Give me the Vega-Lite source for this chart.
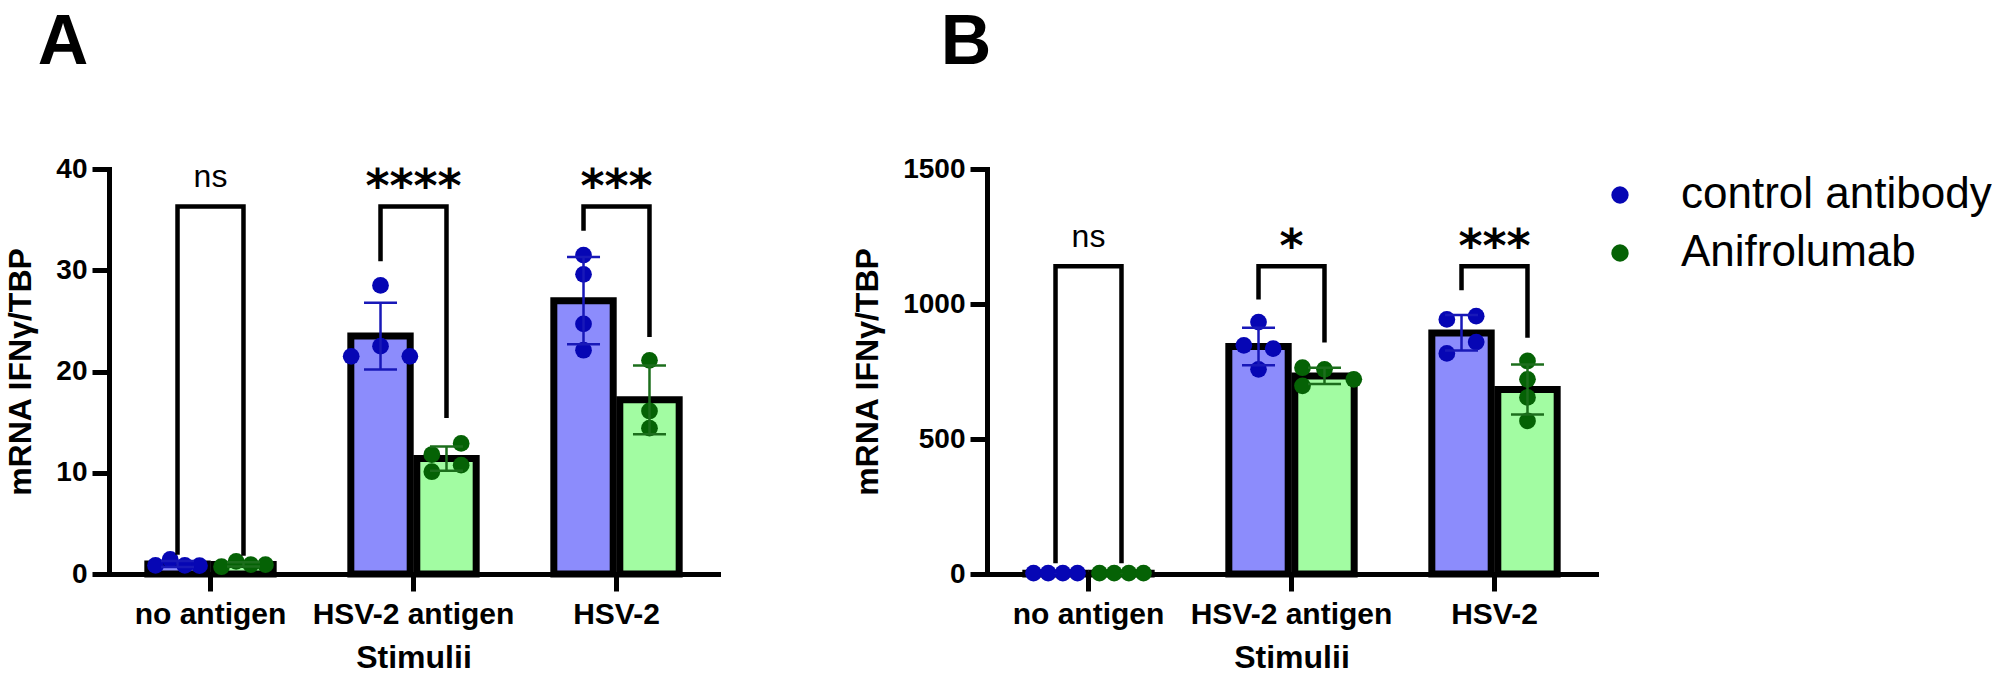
{
  "$schema": "https://vega.github.io/schema/vega-lite/v6.json",
  "background": "white",
  "padding": {"left": 4, "top": 8, "right": 0, "bottom": 0},
  "config": {
    "font": "Liberation Sans",
    "view": {"stroke": null},
    "axis": {
      "grid": false,
      "domainColor": "black",
      "domainWidth": 5,
      "domainCap": "square",
      "tickColor": "black",
      "tickWidth": 5,
      "tickSize": 17,
      "tickCap": "butt",
      "labelColor": "black",
      "labelFont": "Liberation Sans",
      "labelFontWeight": "bold",
      "labelLimit": 500,
      "titleColor": "black",
      "titleFont": "Liberation Sans",
      "titleFontWeight": "bold"
    },
    "axisY": {"labelFontSize": 28, "labelPadding": 5, "titleFontSize": 32, "titlePadding": 18, "format": "d"},
    "axisX": {"labelFontSize": 30, "labelPadding": 8, "labelAngle": 0, "titleFontSize": 32, "titlePadding": 13},
    "legend": {
      "orient": "right",
      "offset": -2,
      "padding": 4,
      "title": null,
      "labelFont": "Liberation Sans",
      "labelFontSize": 44,
      "labelColor": "black",
      "labelLimit": 400,
      "labelOffset": 39,
      "symbolType": "circle",
      "symbolSize": 300,
      "symbolStrokeWidth": 0,
      "rowPadding": 14
    }
  },
  "datasets": {
    "bars": [
      {"panel": "A", "stim": "no antigen", "group": "control antibody", "mean": 0.99, "lo": 0.69, "hi": 1.29},
      {"panel": "A", "stim": "no antigen", "group": "Anifrolumab", "mean": 0.95, "lo": 0.73, "hi": 1.17},
      {"panel": "A", "stim": "HSV-2 antigen", "group": "control antibody", "mean": 23.5, "lo": 20.2, "hi": 26.8},
      {"panel": "A", "stim": "HSV-2 antigen", "group": "Anifrolumab", "mean": 11.4, "lo": 10.2, "hi": 12.6},
      {"panel": "A", "stim": "HSV-2", "group": "control antibody", "mean": 27.0, "lo": 22.7, "hi": 31.3},
      {"panel": "A", "stim": "HSV-2", "group": "Anifrolumab", "mean": 17.2, "lo": 13.8, "hi": 20.6},
      {"panel": "B", "stim": "no antigen", "group": "control antibody", "mean": 3, "lo": 2, "hi": 4},
      {"panel": "B", "stim": "no antigen", "group": "Anifrolumab", "mean": 3, "lo": 2, "hi": 4},
      {"panel": "B", "stim": "HSV-2 antigen", "group": "control antibody", "mean": 843, "lo": 773, "hi": 912},
      {"panel": "B", "stim": "HSV-2 antigen", "group": "Anifrolumab", "mean": 733, "lo": 704, "hi": 764},
      {"panel": "B", "stim": "HSV-2", "group": "control antibody", "mean": 893, "lo": 828, "hi": 959},
      {"panel": "B", "stim": "HSV-2", "group": "Anifrolumab", "mean": 683, "lo": 591, "hi": 776}
    ],
    "pts": [
      {"panel": "A", "stim": "no antigen", "group": "control antibody", "slot": "c2", "value": 0.85},
      {"panel": "A", "stim": "no antigen", "group": "control antibody", "slot": "c4", "value": 1.45},
      {"panel": "A", "stim": "no antigen", "group": "control antibody", "slot": "c6", "value": 0.85},
      {"panel": "A", "stim": "no antigen", "group": "control antibody", "slot": "c8", "value": 0.82},
      {"panel": "A", "stim": "no antigen", "group": "Anifrolumab", "slot": "a2", "value": 0.72},
      {"panel": "A", "stim": "no antigen", "group": "Anifrolumab", "slot": "a4", "value": 1.25},
      {"panel": "A", "stim": "no antigen", "group": "Anifrolumab", "slot": "a6", "value": 0.92},
      {"panel": "A", "stim": "no antigen", "group": "Anifrolumab", "slot": "a8", "value": 0.92},
      {"panel": "A", "stim": "HSV-2 antigen", "group": "control antibody", "slot": "c5", "value": 28.5},
      {"panel": "A", "stim": "HSV-2 antigen", "group": "control antibody", "slot": "c5", "value": 22.5},
      {"panel": "A", "stim": "HSV-2 antigen", "group": "control antibody", "slot": "c1", "value": 21.5},
      {"panel": "A", "stim": "HSV-2 antigen", "group": "control antibody", "slot": "c9", "value": 21.5},
      {"panel": "A", "stim": "HSV-2 antigen", "group": "Anifrolumab", "slot": "a7", "value": 12.9},
      {"panel": "A", "stim": "HSV-2 antigen", "group": "Anifrolumab", "slot": "a3", "value": 11.8},
      {"panel": "A", "stim": "HSV-2 antigen", "group": "Anifrolumab", "slot": "a7", "value": 10.75},
      {"panel": "A", "stim": "HSV-2 antigen", "group": "Anifrolumab", "slot": "a3", "value": 10.1},
      {"panel": "A", "stim": "HSV-2", "group": "control antibody", "slot": "c5", "value": 31.5},
      {"panel": "A", "stim": "HSV-2", "group": "control antibody", "slot": "c5", "value": 29.6},
      {"panel": "A", "stim": "HSV-2", "group": "control antibody", "slot": "c5", "value": 24.7},
      {"panel": "A", "stim": "HSV-2", "group": "control antibody", "slot": "c5", "value": 22.1},
      {"panel": "A", "stim": "HSV-2", "group": "Anifrolumab", "slot": "a5", "value": 21.1},
      {"panel": "A", "stim": "HSV-2", "group": "Anifrolumab", "slot": "a5", "value": 16.1},
      {"panel": "A", "stim": "HSV-2", "group": "Anifrolumab", "slot": "a5", "value": 14.4},
      {"panel": "B", "stim": "no antigen", "group": "control antibody", "slot": "c2", "value": 3},
      {"panel": "B", "stim": "no antigen", "group": "control antibody", "slot": "c4", "value": 3},
      {"panel": "B", "stim": "no antigen", "group": "control antibody", "slot": "c6", "value": 3},
      {"panel": "B", "stim": "no antigen", "group": "control antibody", "slot": "c8", "value": 3},
      {"panel": "B", "stim": "no antigen", "group": "Anifrolumab", "slot": "a2", "value": 3},
      {"panel": "B", "stim": "no antigen", "group": "Anifrolumab", "slot": "a4", "value": 3},
      {"panel": "B", "stim": "no antigen", "group": "Anifrolumab", "slot": "a6", "value": 3},
      {"panel": "B", "stim": "no antigen", "group": "Anifrolumab", "slot": "a8", "value": 3},
      {"panel": "B", "stim": "HSV-2 antigen", "group": "control antibody", "slot": "c5", "value": 933},
      {"panel": "B", "stim": "HSV-2 antigen", "group": "control antibody", "slot": "c3", "value": 847},
      {"panel": "B", "stim": "HSV-2 antigen", "group": "control antibody", "slot": "c7", "value": 835},
      {"panel": "B", "stim": "HSV-2 antigen", "group": "control antibody", "slot": "c5", "value": 758},
      {"panel": "B", "stim": "HSV-2 antigen", "group": "Anifrolumab", "slot": "a2", "value": 764},
      {"panel": "B", "stim": "HSV-2 antigen", "group": "Anifrolumab", "slot": "a5", "value": 758},
      {"panel": "B", "stim": "HSV-2 antigen", "group": "Anifrolumab", "slot": "a9", "value": 721},
      {"panel": "B", "stim": "HSV-2 antigen", "group": "Anifrolumab", "slot": "a2", "value": 697},
      {"panel": "B", "stim": "HSV-2", "group": "control antibody", "slot": "c3", "value": 943},
      {"panel": "B", "stim": "HSV-2", "group": "control antibody", "slot": "c7", "value": 955},
      {"panel": "B", "stim": "HSV-2", "group": "control antibody", "slot": "c7", "value": 859},
      {"panel": "B", "stim": "HSV-2", "group": "control antibody", "slot": "c3", "value": 817},
      {"panel": "B", "stim": "HSV-2", "group": "Anifrolumab", "slot": "a5", "value": 789},
      {"panel": "B", "stim": "HSV-2", "group": "Anifrolumab", "slot": "a5", "value": 721},
      {"panel": "B", "stim": "HSV-2", "group": "Anifrolumab", "slot": "a5", "value": 654},
      {"panel": "B", "stim": "HSV-2", "group": "Anifrolumab", "slot": "a5", "value": 567}
    ],
    "brackets": [
      {"panel": "A", "id": "A1", "stim": "no antigen", "group": "control antibody", "ord": 0, "y": 1.9},
      {"panel": "A", "id": "A1", "stim": "no antigen", "group": "control antibody", "ord": 1, "y": 36.3},
      {"panel": "A", "id": "A1", "stim": "no antigen", "group": "Anifrolumab", "ord": 2, "y": 36.3},
      {"panel": "A", "id": "A1", "stim": "no antigen", "group": "Anifrolumab", "ord": 3, "y": 1.8},
      {"panel": "A", "id": "A2", "stim": "HSV-2 antigen", "group": "control antibody", "ord": 0, "y": 30.9},
      {"panel": "A", "id": "A2", "stim": "HSV-2 antigen", "group": "control antibody", "ord": 1, "y": 36.3},
      {"panel": "A", "id": "A2", "stim": "HSV-2 antigen", "group": "Anifrolumab", "ord": 2, "y": 36.3},
      {"panel": "A", "id": "A2", "stim": "HSV-2 antigen", "group": "Anifrolumab", "ord": 3, "y": 15.4},
      {"panel": "A", "id": "A3", "stim": "HSV-2", "group": "control antibody", "ord": 0, "y": 33.9},
      {"panel": "A", "id": "A3", "stim": "HSV-2", "group": "control antibody", "ord": 1, "y": 36.3},
      {"panel": "A", "id": "A3", "stim": "HSV-2", "group": "Anifrolumab", "ord": 2, "y": 36.3},
      {"panel": "A", "id": "A3", "stim": "HSV-2", "group": "Anifrolumab", "ord": 3, "y": 23.4},
      {"panel": "B", "id": "B1", "stim": "no antigen", "group": "control antibody", "ord": 0, "y": 40},
      {"panel": "B", "id": "B1", "stim": "no antigen", "group": "control antibody", "ord": 1, "y": 1140},
      {"panel": "B", "id": "B1", "stim": "no antigen", "group": "Anifrolumab", "ord": 2, "y": 1140},
      {"panel": "B", "id": "B1", "stim": "no antigen", "group": "Anifrolumab", "ord": 3, "y": 40},
      {"panel": "B", "id": "B2", "stim": "HSV-2 antigen", "group": "control antibody", "ord": 0, "y": 1017},
      {"panel": "B", "id": "B2", "stim": "HSV-2 antigen", "group": "control antibody", "ord": 1, "y": 1140},
      {"panel": "B", "id": "B2", "stim": "HSV-2 antigen", "group": "Anifrolumab", "ord": 2, "y": 1140},
      {"panel": "B", "id": "B2", "stim": "HSV-2 antigen", "group": "Anifrolumab", "ord": 3, "y": 857},
      {"panel": "B", "id": "B3", "stim": "HSV-2", "group": "control antibody", "ord": 0, "y": 1051},
      {"panel": "B", "id": "B3", "stim": "HSV-2", "group": "control antibody", "ord": 1, "y": 1140},
      {"panel": "B", "id": "B3", "stim": "HSV-2", "group": "Anifrolumab", "ord": 2, "y": 1140},
      {"panel": "B", "id": "B3", "stim": "HSV-2", "group": "Anifrolumab", "ord": 3, "y": 875}
    ],
    "sig": [
      {"panel": "A", "stim": "no antigen", "label": "ns", "y": 38.2},
      {"panel": "A", "stim": "HSV-2 antigen", "label": "****", "y": 36.7},
      {"panel": "A", "stim": "HSV-2", "label": "***", "y": 36.7},
      {"panel": "B", "stim": "no antigen", "label": "ns", "y": 1211},
      {"panel": "B", "stim": "HSV-2 antigen", "label": "*", "y": 1156},
      {"panel": "B", "stim": "HSV-2", "label": "***", "y": 1156}
    ]
  },
  "spacing": 133,
  "hconcat": [
    {
      "title": {"text": "A", "anchor": "start", "frame": "bounds", "dx": 33, "offset": 21, "baseline": "alphabetic", "fontSize": 70, "fontWeight": "bold", "font": "Liberation Sans", "color": "black"},
      "width": 609,
      "height": 405,
      "encoding": {
        "x": {"field": "stim", "type": "nominal", "sort": ["no antigen", "HSV-2 antigen", "HSV-2"], "scale": {"type": "band", "paddingInner": 0.35, "paddingOuter": 0.175}, "title": "Stimulii"}
      },
      "layer": [
        {
          "data": {"name": "bars"},
          "transform": [{"filter": "datum.panel == 'A'"}],
          "mark": {"type": "bar", "stroke": "black", "strokeWidth": 7, "strokeJoin": "miter"},
          "encoding": {
            "xOffset": {"field": "group", "type": "nominal", "sort": ["control antibody", "Anifrolumab"], "scale": {"type": "band", "paddingInner": 0.1, "paddingOuter": 0.05}},
            "y": {"field": "mean", "type": "quantitative", "scale": {"domain": [0, 40], "nice": false}, "axis": {"values": [0, 10, 20, 30, 40], "title": "mRNA IFNγ/TBP"}},
            "fill": {"condition": {"test": "datum.group == 'control antibody'", "value": "#8c8cfc"}, "value": "#a2fca2"}
          }
        },
        {
          "data": {"name": "pts"},
          "transform": [{"filter": "datum.panel == 'A'"}],
          "mark": {"type": "point", "filled": true, "shape": "circle", "size": 280, "opacity": 1},
          "encoding": {
            "xOffset": {"field": "slot", "type": "nominal", "scale": {"type": "band", "domain": ["c1", "c2", "c3", "c4", "c5", "c6", "c7", "c8", "c9", "a1", "a2", "a3", "a4", "a5", "a6", "a7", "a8", "a9"], "paddingInner": 0, "paddingOuter": 0}},
            "y": {"field": "value", "type": "quantitative", "scale": {"domain": [0, 40], "nice": false}, "axis": {"values": [0, 10, 20, 30, 40], "title": "mRNA IFNγ/TBP"}},
            "color": {"field": "group", "type": "nominal", "scale": {"domain": ["control antibody", "Anifrolumab"], "range": ["#0606b4", "#056205"]}}
          }
        },
        {
          "data": {"name": "bars"},
          "transform": [{"filter": "datum.panel == 'A'"}],
          "mark": {"type": "rule", "strokeWidth": 2.5},
          "encoding": {
            "xOffset": {"field": "group", "type": "nominal", "sort": ["control antibody", "Anifrolumab"], "scale": {"type": "band", "paddingInner": 0.1, "paddingOuter": 0.05}},
            "y": {"field": "lo", "type": "quantitative", "scale": {"domain": [0, 40], "nice": false}, "axis": {"values": [0, 10, 20, 30, 40], "title": "mRNA IFNγ/TBP"}},
            "y2": {"field": "hi"},
            "stroke": {"condition": {"test": "datum.group == 'control antibody'", "value": "#1818b8"}, "value": "#1c6e1c"}
          }
        },
        {
          "data": {"name": "bars"},
          "transform": [{"filter": "datum.panel == 'A'"}],
          "mark": {"type": "point", "shape": "M-1,0L1,0", "size": 1089, "filled": false, "strokeWidth": 2.5, "opacity": 1},
          "encoding": {
            "xOffset": {"field": "group", "type": "nominal", "sort": ["control antibody", "Anifrolumab"], "scale": {"type": "band", "paddingInner": 0.1, "paddingOuter": 0.05}},
            "y": {"field": "hi", "type": "quantitative", "scale": {"domain": [0, 40], "nice": false}, "axis": {"values": [0, 10, 20, 30, 40], "title": "mRNA IFNγ/TBP"}},
            "stroke": {"condition": {"test": "datum.group == 'control antibody'", "value": "#1818b8"}, "value": "#1c6e1c"}
          }
        },
        {
          "data": {"name": "bars"},
          "transform": [{"filter": "datum.panel == 'A'"}],
          "mark": {"type": "point", "shape": "M-1,0L1,0", "size": 1089, "filled": false, "strokeWidth": 2.5, "opacity": 1},
          "encoding": {
            "xOffset": {"field": "group", "type": "nominal", "sort": ["control antibody", "Anifrolumab"], "scale": {"type": "band", "paddingInner": 0.1, "paddingOuter": 0.05}},
            "y": {"field": "lo", "type": "quantitative", "scale": {"domain": [0, 40], "nice": false}, "axis": {"values": [0, 10, 20, 30, 40], "title": "mRNA IFNγ/TBP"}},
            "stroke": {"condition": {"test": "datum.group == 'control antibody'", "value": "#1818b8"}, "value": "#1c6e1c"}
          }
        },
        {
          "data": {"name": "brackets"},
          "transform": [{"filter": "datum.panel == 'A'"}],
          "mark": {"type": "line", "color": "black", "strokeWidth": 4.5, "strokeCap": "butt", "strokeJoin": "miter"},
          "encoding": {
            "xOffset": {"field": "group", "type": "nominal", "sort": ["control antibody", "Anifrolumab"], "scale": {"type": "band", "paddingInner": 0.1, "paddingOuter": 0.05}},
            "y": {"field": "y", "type": "quantitative", "scale": {"domain": [0, 40], "nice": false}, "axis": {"values": [0, 10, 20, 30, 40], "title": "mRNA IFNγ/TBP"}},
            "detail": {"field": "id"},
            "order": {"field": "ord"}
          }
        },
        {
          "data": {"name": "sig"},
          "transform": [{"filter": "datum.panel == 'A' && datum.label == 'ns'"}],
          "mark": {"type": "text", "font": "Liberation Sans", "fontSize": 32, "color": "black", "baseline": "alphabetic", "align": "center"},
          "encoding": {
            "y": {"field": "y", "type": "quantitative", "scale": {"domain": [0, 40], "nice": false}, "axis": {"values": [0, 10, 20, 30, 40], "title": "mRNA IFNγ/TBP"}},
            "text": {"field": "label"}
          }
        },
        {
          "data": {"name": "sig"},
          "transform": [{"filter": "datum.panel == 'A' && datum.label != 'ns'"}],
          "mark": {"type": "text", "font": "DejaVu Sans", "fontWeight": "bold", "fontSize": 46, "color": "black", "baseline": "alphabetic", "align": "center"},
          "encoding": {
            "y": {"field": "y", "type": "quantitative", "scale": {"domain": [0, 40], "nice": false}, "axis": {"values": [0, 10, 20, 30, 40], "title": "mRNA IFNγ/TBP"}},
            "text": {"field": "label"}
          }
        }
      ],
      "resolve": {"scale": {"xOffset": "independent"}}
    },
    {
      "title": {"text": "B", "anchor": "start", "frame": "bounds", "dx": 89, "offset": 21, "baseline": "alphabetic", "fontSize": 70, "fontWeight": "bold", "font": "Liberation Sans", "color": "black"},
      "width": 609,
      "height": 405,
      "encoding": {
        "x": {"field": "stim", "type": "nominal", "sort": ["no antigen", "HSV-2 antigen", "HSV-2"], "scale": {"type": "band", "paddingInner": 0.35, "paddingOuter": 0.175}, "title": "Stimulii"}
      },
      "layer": [
        {
          "data": {"name": "bars"},
          "transform": [{"filter": "datum.panel == 'B'"}],
          "mark": {"type": "bar", "stroke": "black", "strokeWidth": 7, "strokeJoin": "miter"},
          "encoding": {
            "xOffset": {"field": "group", "type": "nominal", "sort": ["control antibody", "Anifrolumab"], "scale": {"type": "band", "paddingInner": 0.1, "paddingOuter": 0.05}},
            "y": {"field": "mean", "type": "quantitative", "scale": {"domain": [0, 1500], "nice": false}, "axis": {"values": [0, 500, 1000, 1500], "title": "mRNA IFNγ/TBP"}},
            "fill": {"condition": {"test": "datum.group == 'control antibody'", "value": "#8c8cfc"}, "value": "#a2fca2"}
          }
        },
        {
          "data": {"name": "pts"},
          "transform": [{"filter": "datum.panel == 'B'"}],
          "mark": {"type": "point", "filled": true, "shape": "circle", "size": 280, "opacity": 1},
          "encoding": {
            "xOffset": {"field": "slot", "type": "nominal", "scale": {"type": "band", "domain": ["c1", "c2", "c3", "c4", "c5", "c6", "c7", "c8", "c9", "a1", "a2", "a3", "a4", "a5", "a6", "a7", "a8", "a9"], "paddingInner": 0, "paddingOuter": 0}},
            "y": {"field": "value", "type": "quantitative", "scale": {"domain": [0, 1500], "nice": false}, "axis": {"values": [0, 500, 1000, 1500], "title": "mRNA IFNγ/TBP"}},
            "color": {"field": "group", "type": "nominal", "scale": {"domain": ["control antibody", "Anifrolumab"], "range": ["#0606b4", "#056205"]}}
          }
        },
        {
          "data": {"name": "bars"},
          "transform": [{"filter": "datum.panel == 'B'"}],
          "mark": {"type": "rule", "strokeWidth": 2.5},
          "encoding": {
            "xOffset": {"field": "group", "type": "nominal", "sort": ["control antibody", "Anifrolumab"], "scale": {"type": "band", "paddingInner": 0.1, "paddingOuter": 0.05}},
            "y": {"field": "lo", "type": "quantitative", "scale": {"domain": [0, 1500], "nice": false}, "axis": {"values": [0, 500, 1000, 1500], "title": "mRNA IFNγ/TBP"}},
            "y2": {"field": "hi"},
            "stroke": {"condition": {"test": "datum.group == 'control antibody'", "value": "#1818b8"}, "value": "#1c6e1c"}
          }
        },
        {
          "data": {"name": "bars"},
          "transform": [{"filter": "datum.panel == 'B' && datum.stim != 'no antigen'"}],
          "mark": {"type": "point", "shape": "M-1,0L1,0", "size": 1089, "filled": false, "strokeWidth": 2.5, "opacity": 1},
          "encoding": {
            "xOffset": {"field": "group", "type": "nominal", "sort": ["control antibody", "Anifrolumab"], "scale": {"type": "band", "paddingInner": 0.1, "paddingOuter": 0.05}},
            "y": {"field": "hi", "type": "quantitative", "scale": {"domain": [0, 1500], "nice": false}, "axis": {"values": [0, 500, 1000, 1500], "title": "mRNA IFNγ/TBP"}},
            "stroke": {"condition": {"test": "datum.group == 'control antibody'", "value": "#1818b8"}, "value": "#1c6e1c"}
          }
        },
        {
          "data": {"name": "bars"},
          "transform": [{"filter": "datum.panel == 'B' && datum.stim != 'no antigen'"}],
          "mark": {"type": "point", "shape": "M-1,0L1,0", "size": 1089, "filled": false, "strokeWidth": 2.5, "opacity": 1},
          "encoding": {
            "xOffset": {"field": "group", "type": "nominal", "sort": ["control antibody", "Anifrolumab"], "scale": {"type": "band", "paddingInner": 0.1, "paddingOuter": 0.05}},
            "y": {"field": "lo", "type": "quantitative", "scale": {"domain": [0, 1500], "nice": false}, "axis": {"values": [0, 500, 1000, 1500], "title": "mRNA IFNγ/TBP"}},
            "stroke": {"condition": {"test": "datum.group == 'control antibody'", "value": "#1818b8"}, "value": "#1c6e1c"}
          }
        },
        {
          "data": {"name": "brackets"},
          "transform": [{"filter": "datum.panel == 'B'"}],
          "mark": {"type": "line", "color": "black", "strokeWidth": 4.5, "strokeCap": "butt", "strokeJoin": "miter"},
          "encoding": {
            "xOffset": {"field": "group", "type": "nominal", "sort": ["control antibody", "Anifrolumab"], "scale": {"type": "band", "paddingInner": 0.1, "paddingOuter": 0.05}},
            "y": {"field": "y", "type": "quantitative", "scale": {"domain": [0, 1500], "nice": false}, "axis": {"values": [0, 500, 1000, 1500], "title": "mRNA IFNγ/TBP"}},
            "detail": {"field": "id"},
            "order": {"field": "ord"}
          }
        },
        {
          "data": {"name": "sig"},
          "transform": [{"filter": "datum.panel == 'B' && datum.label == 'ns'"}],
          "mark": {"type": "text", "font": "Liberation Sans", "fontSize": 32, "color": "black", "baseline": "alphabetic", "align": "center"},
          "encoding": {
            "y": {"field": "y", "type": "quantitative", "scale": {"domain": [0, 1500], "nice": false}, "axis": {"values": [0, 500, 1000, 1500], "title": "mRNA IFNγ/TBP"}},
            "text": {"field": "label"}
          }
        },
        {
          "data": {"name": "sig"},
          "transform": [{"filter": "datum.panel == 'B' && datum.label != 'ns'"}],
          "mark": {"type": "text", "font": "DejaVu Sans", "fontWeight": "bold", "fontSize": 46, "color": "black", "baseline": "alphabetic", "align": "center"},
          "encoding": {
            "y": {"field": "y", "type": "quantitative", "scale": {"domain": [0, 1500], "nice": false}, "axis": {"values": [0, 500, 1000, 1500], "title": "mRNA IFNγ/TBP"}},
            "text": {"field": "label"}
          }
        }
      ],
      "resolve": {"scale": {"xOffset": "independent"}}
    }
  ]
}
